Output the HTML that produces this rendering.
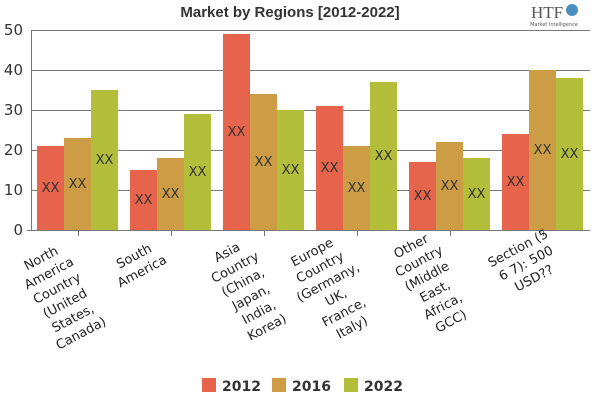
<!DOCTYPE html>
<html><head><meta charset="utf-8"><style>body{margin:0;background:#fff}svg{display:block}</style></head><body>
<svg width="600" height="400" xmlns="http://www.w3.org/2000/svg" font-family="DejaVu Sans, sans-serif">
<text x="290" y="17" text-anchor="middle" font-family="Liberation Sans Narrow, Liberation Sans, sans-serif" font-weight="bold" font-size="15" fill="#333">Market by Regions [2012-2022]</text>
<text x="531" y="18" font-family="Liberation Serif, serif" font-size="17" fill="#555">HTF</text>
<circle cx="572" cy="10" r="6" fill="#4a8fc0"/>
<text x="554" y="26" text-anchor="middle" font-size="5" fill="#555">Market Intelligence</text>
<g stroke="#777" stroke-width="1">
<line x1="31" y1="30.5" x2="590" y2="30.5"/><line x1="31" y1="70.5" x2="590" y2="70.5"/><line x1="31" y1="110.5" x2="590" y2="110.5"/><line x1="31" y1="150.5" x2="590" y2="150.5"/><line x1="31" y1="190.5" x2="590" y2="190.5"/>
<line x1="27" y1="230.5" x2="590" y2="230.5"/>
<line x1="31.5" y1="30" x2="31.5" y2="230"/>
<line x1="78.5" y1="230" x2="78.5" y2="236"/><line x1="171.5" y1="230" x2="171.5" y2="236"/><line x1="264.5" y1="230" x2="264.5" y2="236"/><line x1="357.5" y1="230" x2="357.5" y2="236"/><line x1="450.5" y1="230" x2="450.5" y2="236"/><line x1="543.5" y1="230" x2="543.5" y2="236"/>
</g>
<g font-size="15" fill="#333" text-anchor="end">
<text x="23" y="35">50</text><text x="23" y="75">40</text><text x="23" y="115">30</text><text x="23" y="155">20</text><text x="23" y="195">10</text><text x="23" y="235">0</text>
</g>
<g>
<rect x="37" y="146" width="27" height="84" fill="#E5644B"/><rect x="64" y="138" width="27" height="92" fill="#CC9D45"/><rect x="91" y="90" width="27" height="140" fill="#B3BF3A"/>
<rect x="130" y="170" width="27" height="60" fill="#E5644B"/><rect x="157" y="158" width="27" height="72" fill="#CC9D45"/><rect x="184" y="114" width="27" height="116" fill="#B3BF3A"/>
<rect x="223" y="34" width="27" height="196" fill="#E5644B"/><rect x="250" y="94" width="27" height="136" fill="#CC9D45"/><rect x="277" y="110" width="27" height="120" fill="#B3BF3A"/>
<rect x="316" y="106" width="27" height="124" fill="#E5644B"/><rect x="343" y="146" width="27" height="84" fill="#CC9D45"/><rect x="370" y="82" width="27" height="148" fill="#B3BF3A"/>
<rect x="409" y="162" width="27" height="68" fill="#E5644B"/><rect x="436" y="142" width="27" height="88" fill="#CC9D45"/><rect x="463" y="158" width="27" height="72" fill="#B3BF3A"/>
<rect x="502" y="134" width="27" height="96" fill="#E5644B"/><rect x="529" y="70" width="27" height="160" fill="#CC9D45"/><rect x="556" y="78" width="27" height="152" fill="#B3BF3A"/>
</g>
<g font-size="13" fill="#333" text-anchor="middle">
<text x="50.5" y="192">XX</text><text x="77.5" y="188">XX</text><text x="104.5" y="164">XX</text>
<text x="143.5" y="204">XX</text><text x="170.5" y="198">XX</text><text x="197.5" y="176">XX</text>
<text x="236.5" y="136">XX</text><text x="263.5" y="166">XX</text><text x="290.5" y="174">XX</text>
<text x="329.5" y="172">XX</text><text x="356.5" y="192">XX</text><text x="383.5" y="160">XX</text>
<text x="422.5" y="200">XX</text><text x="449.5" y="190">XX</text><text x="476.5" y="198">XX</text>
<text x="515.5" y="186">XX</text><text x="542.5" y="154">XX</text><text x="569.5" y="158">XX</text>
</g>
<g font-size="13" fill="#222">
<text transform="translate(43,262) rotate(-28)" text-anchor="middle"><tspan x="0" dy="0">North</tspan><tspan x="0" dy="17">America</tspan><tspan x="0" dy="17">Country</tspan><tspan x="0" dy="17">(United</tspan><tspan x="0" dy="17">States,</tspan><tspan x="0" dy="17">Canada)</tspan></text>
<text transform="translate(136,260) rotate(-28)" text-anchor="middle"><tspan x="0" dy="0">South</tspan><tspan x="0" dy="17">America</tspan></text>
<text transform="translate(229,256) rotate(-28)" text-anchor="middle"><tspan x="0" dy="0">Asia</tspan><tspan x="0" dy="17">Country</tspan><tspan x="0" dy="17">(China,</tspan><tspan x="0" dy="17">Japan,</tspan><tspan x="0" dy="17">India,</tspan><tspan x="0" dy="17">Korea)</tspan></text>
<text transform="translate(314,256) rotate(-28)" text-anchor="middle"><tspan x="0" dy="0">Europe</tspan><tspan x="0" dy="17">Country</tspan><tspan x="0" dy="17">(Germany,</tspan><tspan x="0" dy="17">UK,</tspan><tspan x="0" dy="17">France,</tspan><tspan x="0" dy="17">Italy)</tspan></text>
<text transform="translate(413,250) rotate(-28)" text-anchor="middle"><tspan x="0" dy="0">Other</tspan><tspan x="0" dy="17">Country</tspan><tspan x="0" dy="17">(Middle</tspan><tspan x="0" dy="17">East,</tspan><tspan x="0" dy="17">Africa,</tspan><tspan x="0" dy="17">GCC)</tspan></text>
<text transform="translate(520,252) rotate(-28)" text-anchor="middle"><tspan x="0" dy="0">Section (5</tspan><tspan x="0" dy="17">6 7): 500</tspan><tspan x="0" dy="17">USD??</tspan></text>
</g>
<g>
<rect x="202" y="378" width="14" height="14" fill="#E5644B"/><text x="222" y="391" font-size="14" font-weight="bold" fill="#333">2012</text>
<rect x="272" y="378" width="14" height="14" fill="#CC9D45"/><text x="292" y="391" font-size="14" font-weight="bold" fill="#333">2016</text>
<rect x="344" y="378" width="14" height="14" fill="#B3BF3A"/><text x="364" y="391" font-size="14" font-weight="bold" fill="#333">2022</text>
</g>
</svg>
</body></html>
